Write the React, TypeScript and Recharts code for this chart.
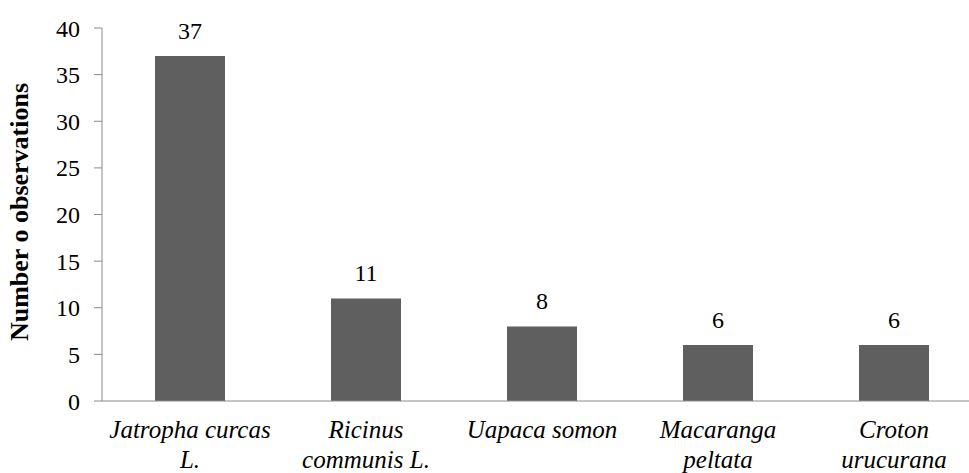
import React from "react";
import { BarChart, Bar, XAxis, YAxis, LabelList } from "recharts";

// Species observed and how often each one was recorded
const species = [
  "Jatropha curcas L.",
  "Ricinus communis L.",
  "Uapaca somon",
  "Macaranga peltata",
  "Croton urucurana",
];
// Category labels as they are broken over lines under the axis
const speciesLines = [
  ["Jatropha curcas", "L."],
  ["Ricinus", "communis L."],
  ["Uapaca somon"],
  ["Macaranga", "peltata"],
  ["Croton", "urucurana"],
];
const observations = [37, 11, 8, 6, 6];
const yTicks = [0, 5, 10, 15, 20, 25, 30, 35, 40];

const data = species.map((name, i) => ({ name, value: observations[i] }));

const FONT = "'Liberation Serif', 'Times New Roman', Times, serif";
const AXIS = "#8a8a8a";
const BAR = "#5f5f5f";

const SpeciesTick = (props: any) => {
  const { x, y, index } = props;
  const lines = speciesLines[index] || [];
  return (
    <g>
      {lines.map((t: string, k: number) => (
        <text
          key={k}
          x={x}
          y={y + 37 + k * 30}
          textAnchor="middle"
          style={{ fontFamily: FONT, fontStyle: "italic", fontSize: 25 }}
          fill="#000"
        >
          {t}
        </text>
      ))}
    </g>
  );
};

const AxisTitle = () => (
  <text
    x={0}
    y={0}
    transform="translate(28, 212) rotate(-90)"
    textAnchor="middle"
    style={{ fontFamily: FONT, fontWeight: "bold", fontSize: 26 }}
    fill="#000"
  >
    Number o observations
  </text>
);

export default function App() {
  return (
    <div
      style={{
        position: "fixed",
        left: 0,
        top: 0,
        width: 969,
        height: 473,
        overflow: "hidden",
        background: "#fff",
      }}
    >
      <BarChart
        width={990}
        height={473}
        data={data}
        margin={{ top: 28, right: 8, bottom: 0, left: 0 }}
        style={{ fontFamily: FONT }}
      >
        <XAxis
          dataKey="name"
          height={72}
          stroke={AXIS}
          tickLine={false}
          tickSize={0}
          tickMargin={0}
          interval={0}
          tick={<SpeciesTick />}
        />
        <YAxis
          width={102}
          domain={[0, 40]}
          ticks={yTicks}
          stroke={AXIS}
          tickSize={8}
          tickMargin={14}
          tick={{ fill: "#000", fontSize: 24, style: { fontFamily: FONT } }}
          label={<AxisTitle />}
        />
        <Bar dataKey="value" fill={BAR} barSize={70} isAnimationActive={false}>
          <LabelList
            dataKey="value"
            position="top"
            offset={17}
            fill="#000"
            fontSize={24}
            style={{ fontFamily: FONT }}
          />
        </Bar>
      </BarChart>
    </div>
  );
}
